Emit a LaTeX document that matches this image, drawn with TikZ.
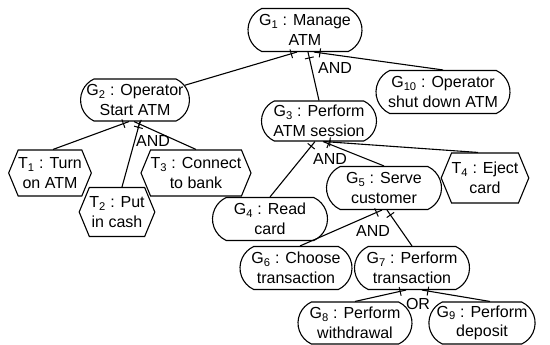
\documentclass[tikz,border=0pt]{standalone}
\usepackage{fontspec}
\setmainfont{Liberation Sans}
\usetikzlibrary{shapes.misc,shapes.symbols,decorations.markings,calc}
\begin{document}
\begin{tikzpicture}[x=1pt,y=-1pt,
  every node/.style={font=\fontsize{16}{19.5}\selectfont, align=center, inner sep=0pt},
  goal/.style={draw, line width=1.1pt, rounded rectangle, rounded rectangle arc length=130, minimum height=43pt},
  task/.style={draw, line width=1.1pt, signal, signal to=east and west, signal pointer angle=135, minimum height=46pt},
  link/.style={line width=1.1pt, postaction={decorate}, decoration={markings, mark=at position 6pt with {\draw[line width=1pt] (0,-4.5pt) -- (0,4.5pt);}}}
]
\useasboundingbox (0,0) rectangle (550,345);

\node[goal, minimum width=114pt] (G1) at (305,30) {G\textsubscript{1} : Manage\\ATM};
\node[goal, minimum width=134pt] (G10) at (443,92) {G\textsubscript{10} : Operator\\shut down ATM};
\node[goal, minimum width=106pt, minimum height=42pt] (G2) at (135,100) {G\textsubscript{2} : Operator\\Start ATM};
\node[goal, minimum width=115pt, minimum height=40pt] (G3) at (319,121) {G\textsubscript{3} : Perform\\ATM session};
\node[goal, minimum width=115pt] (G4) at (270,219) {G\textsubscript{4} : Read\\card};
\node[goal, minimum width=115pt] (G5) at (384,188) {G\textsubscript{5} : Serve\\customer};
\node[goal, minimum width=112pt] (G6) at (296,268) {G\textsubscript{6} : Choose\\transaction};
\node[goal, minimum width=115pt] (G7) at (412,268) {G\textsubscript{7} : Perform\\transaction};
\node[goal, minimum width=114pt, minimum height=42pt] (G8) at (355,323) {G\textsubscript{8} : Perform\\withdrawal};
\node[goal, minimum width=99pt, minimum height=42pt] (G9) at (482,323) {G\textsubscript{9} : Perform\\deposit};
\node[task, minimum width=76pt] (T1) at (50,173) {T\textsubscript{1} : Turn\\on ATM};
\node[task, minimum width=75pt, minimum height=49pt] (T2) at (117,212) {T\textsubscript{2} : Put\\in cash};
\node[task, minimum width=106pt] (T3) at (196,173) {T\textsubscript{3} : Connect\\to bank};
\node[task, minimum width=80pt, minimum height=50pt] (T4) at (485,178) {T\textsubscript{4} : Eject\\card};

\draw[link] ([xshift=-8pt]G1.south) -- (G2);
\draw[link] ([xshift=3pt]G1.south) -- (G3.north);
\draw[link] ([xshift=9pt]G1.south) -- (G10.north);

\draw[link] ([xshift=-6pt]G2.south) -- ([xshift=3pt]T1.north);
\draw[link] ([xshift=5pt]G2.south) -- ([xshift=5pt]T2.north);
\draw[link] ([xshift=-1pt]G2.south) -- (T3.north);

\draw[link] ([xshift=-4pt]G3.south) -- (G4.north);
\draw[link] ([xshift=4pt]G3.south) -- (G5.north);
\draw[link] ([xshift=5pt]G3.south) -- ([xshift=-7pt]T4.north);

\draw[link] ([xshift=-2pt]G5.south) -- ([xshift=4pt]G6.north);
\draw[link] ([xshift=3pt]G5.south) -- (G7.north);

\draw[link] ([xshift=-6pt]G7.south) -- (G8.north);
\draw[link] ([xshift=10pt]G7.south) -- ([xshift=8pt]G9.north);

\node (a1) at (335,68) {AND};
\node (a2) at (153,141) {AND};
\node (a3) at (330,159) {AND};
\node (a5) at (373,231) {AND};
\node (o7) at (418,304) {OR};
\end{tikzpicture}
\end{document}
